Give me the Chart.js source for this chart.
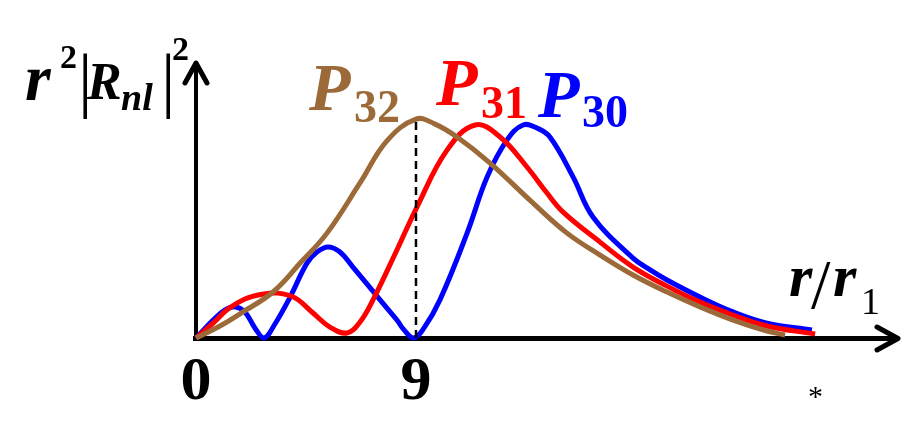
<!DOCTYPE html>
<html>
<head>
<meta charset="utf-8">
<script src="https://cdn.jsdelivr.net/npm/chart.js@4/dist/chart.umd.min.js"></script>
<style>
  html, body { margin: 0; padding: 0; background: #fff; }
  #wrap { position: relative; width: 918px; height: 421px; overflow: hidden; }
  #c { position: absolute; left: 0; top: 0; }
  .t { position: absolute; font-family: "Liberation Serif", "Times New Roman", serif; line-height: 1; white-space: nowrap; }
</style>
</head>
<body>
<div id="wrap">
  <canvas id="c" width="918" height="421"></canvas>
</div>
<script>
// ---- data (x in r/r1, y relative) ----
const tickValues = [0, 9];
const tickLabels = ["0", "9"];

const p32R = [0, 0.98, 1.92, 3.15, 4.3, 5.36, 6.71, 7.81, 9.0, 9.78, 10.68, 12.03, 13.79, 15.18, 16.53, 17.88, 19.27, 20.62, 21.97, 23.36, 24.1];
const p32Y = [0, 0.055, 0.119, 0.21, 0.347, 0.479, 0.708, 0.9, 1.0, 0.977, 0.918, 0.799, 0.616, 0.479, 0.379, 0.288, 0.21, 0.142, 0.082, 0.032, 0.014];

const p31R = [0, 0.7, 1.31, 2.0, 2.7, 3.36, 4.05, 4.79, 5.48, 6.18, 6.71, 7.24, 8.22, 9.04, 10.27, 11.42, 12.44, 13.54, 14.36, 15.02, 16.53, 17.88, 19.27, 20.62, 21.97, 23.36, 25.33];
const p31Y = [0, 0.068, 0.132, 0.178, 0.2, 0.205, 0.183, 0.114, 0.05, 0.023, 0.073, 0.174, 0.402, 0.598, 0.858, 0.973, 0.918, 0.781, 0.662, 0.575, 0.438, 0.324, 0.237, 0.164, 0.105, 0.055, 0.018];

const p30R = [0, 0.7, 1.19, 1.6, 2.0, 2.41, 2.78, 3.23, 3.85, 4.54, 4.95, 5.4, 5.89, 6.42, 7.53, 8.22, 8.51, 8.9, 9.33, 9.98, 11.09, 11.91, 12.72, 13.38, 13.95, 14.48, 15.43, 16.24, 17.88, 18.58, 19.27, 20.62, 21.97, 23.36, 25.2];
const p30Y = [0, 0.082, 0.128, 0.142, 0.119, 0.046, 0, 0.064, 0.187, 0.342, 0.393, 0.416, 0.393, 0.324, 0.174, 0.082, 0.037, 0, 0.046, 0.174, 0.479, 0.735, 0.904, 0.973, 0.959, 0.918, 0.735, 0.553, 0.365, 0.311, 0.265, 0.187, 0.119, 0.068, 0.037];

const markerR = 9;      // dashed line position
const markerY = 1.0;    // P32 maximum

const BROWN = "#9c6a38", RED = "#ff0000", BLUE = "#0000ff";

const toPts = (xs, ys) => xs.map((x, i) => ({ x: x, y: ys[i] }));

const axesPlugin = {
  id: "axesArrows",
  beforeDatasetsDraw(chart) {
    const { ctx, chartArea: a, scales } = chart;
    const x0 = scales.x.getPixelForValue(0);
    const y0 = scales.y.getPixelForValue(0);
    ctx.save();
    ctx.strokeStyle = "#000";
    ctx.lineCap = "butt";
    ctx.lineWidth = 5;
    ctx.beginPath(); ctx.moveTo(x0 - 3, y0 + 0.5); ctx.lineTo(a.right - 2, y0 + 0.5); ctx.stroke();
    ctx.lineWidth = 4;
    ctx.beginPath(); ctx.moveTo(x0, y0 + 3); ctx.lineTo(x0, a.top + 2); ctx.stroke();
    ctx.lineWidth = 5; ctx.lineCap = "round"; ctx.lineJoin = "round";
    ctx.beginPath();
    ctx.moveTo(a.right - 21, y0 - 11); ctx.lineTo(a.right, y0 + 0.5); ctx.lineTo(a.right - 21, y0 + 12);
    ctx.stroke();
    ctx.beginPath();
    ctx.moveTo(x0 - 11, a.top + 20); ctx.lineTo(x0, a.top); ctx.lineTo(x0 + 11, a.top + 20);
    ctx.stroke();
    ctx.restore();
  },
  afterDatasetsDraw(chart) {
    const { ctx, scales } = chart;
    const xp = scales.x.getPixelForValue(markerR);
    ctx.save();
    ctx.strokeStyle = "#000";
    ctx.lineWidth = 2.5;
    ctx.setLineDash([8, 5]);
    ctx.beginPath();
    ctx.moveTo(xp, scales.y.getPixelForValue(0));
    ctx.lineTo(xp, scales.y.getPixelForValue(markerY));
    ctx.stroke();
    ctx.restore();
  }
};

const lineDs = (pts, color) => ({
  data: pts, borderColor: color, borderWidth: 5, pointRadius: 0,
  tension: 0.4, fill: false, clip: false,
  borderCapStyle: "butt", borderJoinStyle: "round"
});

new Chart(document.getElementById("c"), {
  type: "line",
  data: {
    datasets: [
      lineDs(toPts(p32R, p32Y), BROWN),
      lineDs(toPts(p31R, p31Y), RED),
      lineDs(toPts(p30R, p30Y), BLUE)
    ]
  },
  options: {
    responsive: false,
    animation: false,
    devicePixelRatio: 1,
    layout: { padding: { left: 196, top: 63, right: 20, bottom: 0 } },
    plugins: { legend: { display: false }, tooltip: { enabled: false } },
    scales: {
      x: {
        type: "linear", min: 0, max: 28.72,
        grid: { display: false }, border: { display: false },
        afterFit: (s) => { s.height = 83; },
        afterBuildTicks: (s) => { s.ticks = tickValues.map(v => ({ value: v })); },
        ticks: {
          autoSkip: false, maxRotation: 0, padding: 6,
          color: "#000",
          font: { family: "'Liberation Serif', 'Times New Roman', serif", weight: "bold", size: 62, lineHeight: 1 },
          callback: (v) => tickLabels[tickValues.indexOf(v)]
        }
      },
      y: { type: "linear", min: 0, max: 1.256, display: false }
    }
  },
  plugins: [axesPlugin]
});

// ---- text labels (real HTML text) ----
const wrap = document.getElementById("wrap");
function put(text, left, baseline, size, color, style, weight) {
  const s = document.createElement("span");
  s.className = "t";
  s.textContent = text;
  s.style.left = left + "px";
  s.style.top = (baseline - 0.8375 * size) + "px";
  s.style.fontSize = size + "px";
  s.style.color = color;
  s.style.fontStyle = style;
  s.style.fontWeight = weight;
  wrap.appendChild(s);
}
// y-axis label r^2 |R_nl|^2
put("r", 25, 100, 66, "#000", "italic", "bold");
put("2", 60, 68, 34, "#000", "normal", "bold");
put("|", 78, 104, 72, "#000", "normal", "normal");
put("R", 87, 100, 52, "#000", "italic", "bold");
put("nl", 121, 110, 38, "#000", "italic", "bold");
put("|", 161, 104, 72, "#000", "normal", "normal");
put("2", 172, 60, 34, "#000", "normal", "bold");
// series labels
put("P", 309, 110, 68, BROWN, "italic", "bold");
put("32", 354, 123, 46, BROWN, "normal", "bold");
put("P", 436, 105, 68, RED, "italic", "bold");
put("31", 481, 119, 46, RED, "normal", "bold");
put("P", 538, 117, 68, BLUE, "italic", "bold");
put("30", 582, 128, 46, BLUE, "normal", "bold");
// x-axis label r / r1
put("r", 789, 296, 60, "#000", "italic", "bold");
put("/", 811, 309, 70, "#000", "normal", "normal");
put("r", 833, 296, 60, "#000", "italic", "bold");
put("1", 861, 314, 38, "#000", "normal", "normal");
// asterisk
put("*", 808, 406, 30, "#000", "normal", "normal");
</script>
</body>
</html>
